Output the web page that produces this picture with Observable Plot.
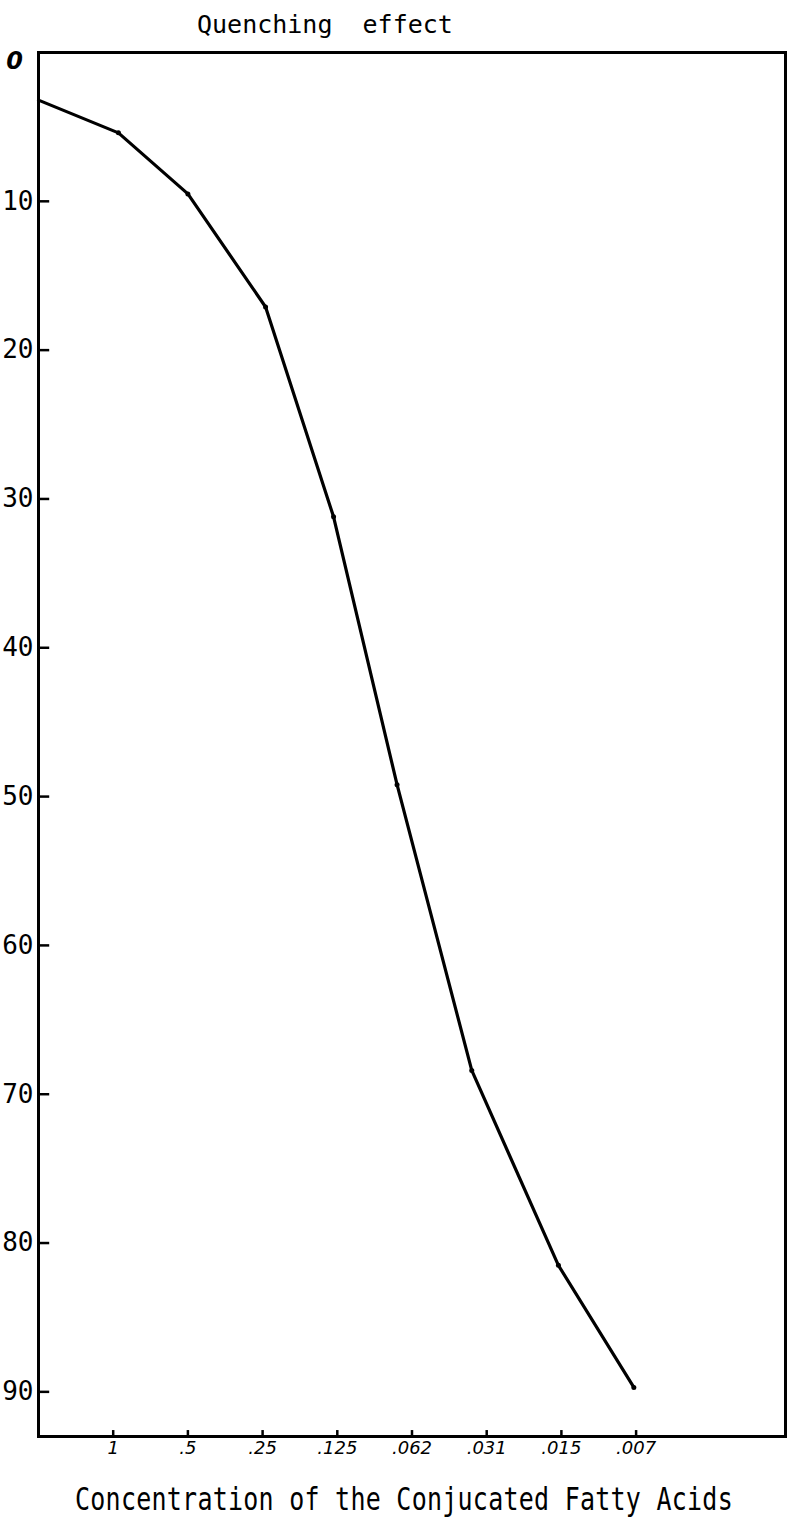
<!DOCTYPE html>
<html>
<head>
<meta charset="utf-8">
<script src="https://cdn.jsdelivr.net/npm/d3@7"></script>
<script src="https://cdn.jsdelivr.net/npm/@observablehq/plot@0.6"></script>
<style>
  html, body { margin: 0; padding: 0; background: #fff; }
  #wrap { position: relative; width: 792px; height: 1522px; overflow: hidden; }
  .title { position: absolute; left: 197px; top: 12px; font-family: "DejaVu Sans Mono", monospace; font-size: 25px; line-height: 25px; white-space: pre; color: #000; }
  #chart { position: absolute; left: 0; top: 40px; }
  .caption { position: absolute; left: 75px; top: 1489px; font-family: "DejaVu Sans Mono", monospace; font-size: 25px; line-height: 25px; letter-spacing: 0.25px; white-space: pre; color: #000; transform: scaleY(1.3); transform-origin: 0 21px; }
</style>
</head>
<body>
<div id="wrap">
  <div class="title">Quenching  effect</div>
  <div id="chart"></div>
  <div class="caption">Concentration of the Conjucated Fatty Acids</div>
</div>
<script>
// Concentration tick labels (positions 1..8 along the x axis)
const tickLabels = ["1", ".5", ".25", ".125", ".062", ".031", ".015", ".007"];
const tickPos = [1, 2, 3, 4, 5, 6, 7, 8];
// Measured point positions along the x axis (in tick units) and quenching values
const xPos = [0, 1.07, 2.0, 3.04, 3.95, 4.80, 5.80, 6.96, 7.97];
const quench = [3.2, 5.4, 9.5, 17.1, 31.2, 49.2, 68.4, 81.5, 89.7];
const yTicks = [10, 20, 30, 40, 50, 60, 70, 80, 90];

const data = xPos.map((x, i) => ({x, y: quench[i]}));
const mono = "DejaVu Sans Mono";

const chart = Plot.plot({
  width: 792,
  height: 1430,
  marginTop: 12,
  marginBottom: 34,
  marginLeft: 38,
  marginRight: 7,
  style: {fontFamily: mono, color: "#000", background: "#fff"},
  x: {domain: [0, 10]},
  y: {domain: [0, 93], reverse: true},
  marks: [
    Plot.frame({stroke: "#000", strokeWidth: 3}),
    Plot.line(data, {x: "x", y: "y", stroke: "#000", strokeWidth: 3.2, strokeLinejoin: "round"}),
    Plot.dot(data.slice(1), {x: "x", y: "y", r: 2.5, fill: "#000"}),
    Plot.ruleY(yTicks, {x1: 0, x2: 0.15, y: d => d, stroke: "#000", strokeWidth: 2.5}),
    Plot.ruleX(tickPos, {x: d => d, y1: 93, y2: 92.6, stroke: "#000", strokeWidth: 2.5}),
    Plot.axisY({ticks: yTicks, tickSize: 0, tickPadding: 5, fontSize: 26, fontFamily: mono, label: null}),
    Plot.axisX({ticks: tickPos, tickFormat: d => tickLabels[d - 1], tickSize: 0, tickPadding: 5, fontSize: 18, fontStyle: "italic", fontFamily: "DejaVu Sans", label: null}),
    Plot.text([0], {x: 0, y: d => d, text: () => "0", dx: -24, dy: 9, textAnchor: "middle", fontSize: 24, fontStyle: "italic", fontWeight: "bold", fontFamily: "DejaVu Sans"})
  ]
});
document.getElementById("chart").appendChild(chart);
</script>
</body>
</html>
